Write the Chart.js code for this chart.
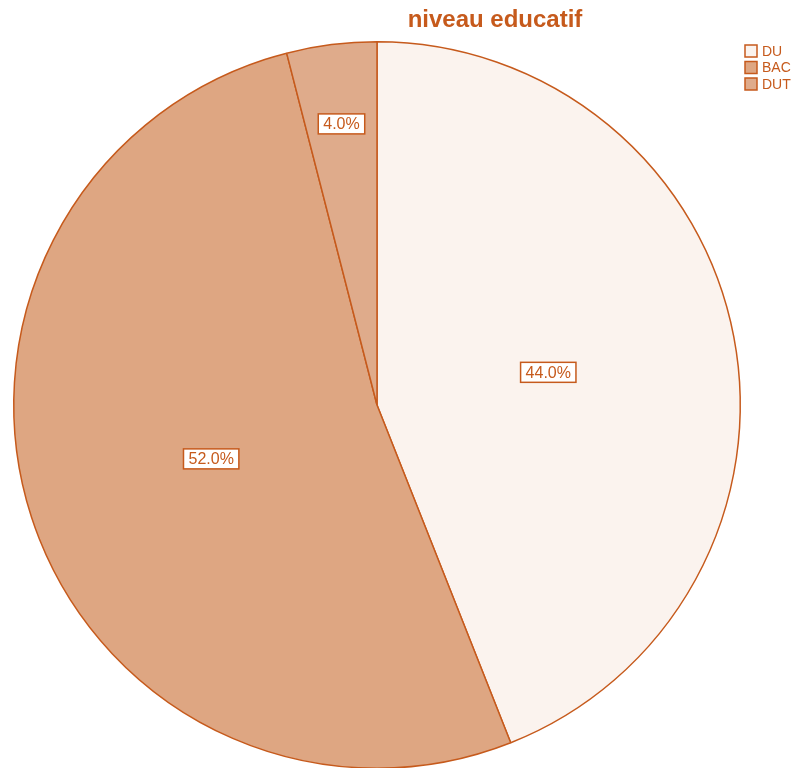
<!DOCTYPE html>
<html>
<head>
<meta charset="utf-8">
<script src="https://cdn.jsdelivr.net/npm/chart.js@4/dist/chart.umd.min.js"></script>
<style>
  html, body { margin: 0; padding: 0; background: #fff; overflow: hidden; }
  #wrap { width: 802px; height: 772px; position: relative; }
</style>
</head>
<body>
<div id="wrap"><canvas id="pieChart"></canvas></div>
<script>
// niveau educatif - répartition en pourcentage
const titre = 'niveau educatif';
const categories = ['DU', 'BAC', 'DUT'];
const pourcentages = [44.0, 52.0, 4.0];
const couleurs = ['#fbf3ee', '#dea682', '#dfab8b'];

const ORANGE = '#c65a1c';
const police = '"Liberation Sans", Arial, sans-serif';

// Titre + légende dessinés à la main (positions comme SPSS)
const decorPlugin = {
  id: 'decor',
  afterDraw(chart) {
    const ctx = chart.ctx;
    ctx.save();
    ctx.fillStyle = ORANGE;
    ctx.font = 'bold 24px ' + police;
    ctx.textAlign = 'center';
    ctx.textBaseline = 'alphabetic';
    ctx.fillText(titre, 495, 27);

    // légende en haut à droite
    ctx.font = '14px ' + police;
    ctx.textAlign = 'left';
    ctx.textBaseline = 'middle';
    categories.forEach((c, i) => {
      const y = 51 + i * 16.5;
      ctx.fillStyle = couleurs[i];
      ctx.fillRect(745, y - 6, 12, 12);
      ctx.strokeStyle = ORANGE;
      ctx.lineWidth = 1.5;
      ctx.strokeRect(745, y - 6, 12, 12);
      ctx.fillStyle = ORANGE;
      ctx.fillText(c, 762, y + 1);
    });

    // étiquettes de pourcentage dans des cadres
    const meta = chart.getDatasetMeta(0);
    const total = pourcentages.reduce((a, b) => a + b, 0);
    ctx.font = '16px ' + police;
    ctx.textAlign = 'center';
    meta.data.forEach((arc, i) => {
      const p = arc.getProps(['x', 'y', 'startAngle', 'endAngle', 'outerRadius'], true);
      const mid = (p.startAngle + p.endAngle) / 2;
      const f = pourcentages[i] / total < 0.1 ? 0.78 : 0.48;
      const x = p.x + Math.cos(mid) * p.outerRadius * f;
      const y = p.y + Math.sin(mid) * p.outerRadius * f;
      const txt = pourcentages[i].toFixed(1) + '%';
      const w = ctx.measureText(txt).width + 10;
      const h = 20;
      ctx.fillStyle = '#ffffff';
      ctx.fillRect(x - w / 2, y - h / 2, w, h);
      ctx.strokeStyle = ORANGE;
      ctx.lineWidth = 1.5;
      ctx.strokeRect(x - w / 2, y - h / 2, w, h);
      ctx.fillStyle = ORANGE;
      ctx.fillText(txt, x, y + 1);
    });
    ctx.restore();
  }
};

new Chart(document.getElementById('pieChart'), {
  type: 'pie',
  data: {
    labels: categories,
    datasets: [{
      data: pourcentages,
      backgroundColor: couleurs,
      borderColor: ORANGE,
      borderWidth: 1.5,
      hoverOffset: 0
    }]
  },
  options: {
    responsive: true,
    maintainAspectRatio: false,
    animation: false,
    layout: {
      padding: { left: 13, right: 61, top: 41, bottom: 3 }
    },
    plugins: {
      legend: { display: false },
      title: { display: false },
      tooltip: { enabled: false }
    }
  },
  plugins: [decorPlugin]
});
</script>
</body>
</html>
